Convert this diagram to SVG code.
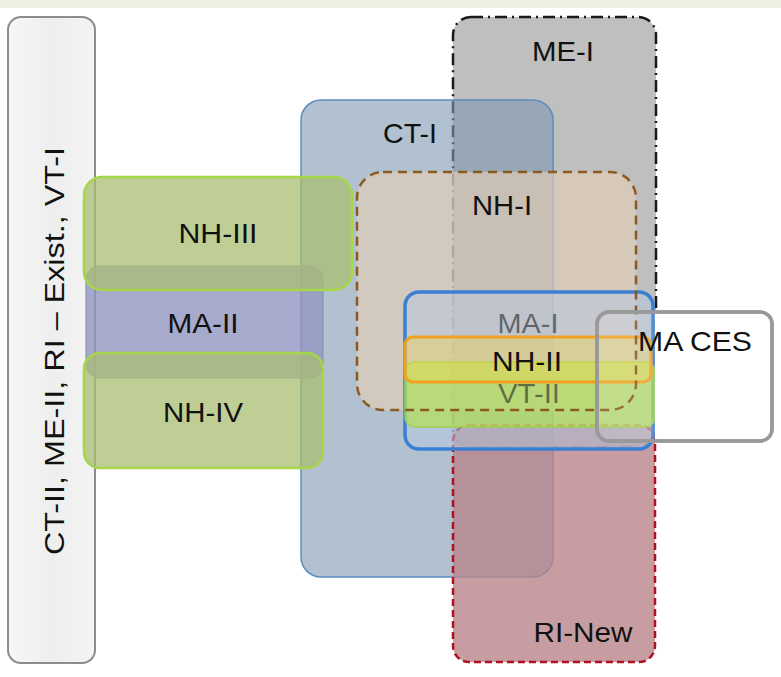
<svg xmlns="http://www.w3.org/2000/svg" width="781" height="677" viewBox="0 0 781 677">
<defs>
<linearGradient id="gLeft" x1="0" y1="0" x2="1" y2="0">
<stop offset="0" stop-color="#f7f7f7"/><stop offset="0.5" stop-color="#eeeeee"/><stop offset="1" stop-color="#f4f4f4"/>
</linearGradient>
</defs>
<style>
text{font-family:"Liberation Sans",Arial,sans-serif;font-size:28px;fill:#111;}
.lab{text-anchor:middle;}
</style>
<rect x="0" y="0" width="781" height="677" fill="#ffffff"/>
<rect x="0" y="0" width="781" height="8" fill="#eeeee3"/>

<g id="left-box">
<rect x="8" y="17" width="87" height="646" rx="13" fill="url(#gLeft)" stroke="#8c8c8c" stroke-width="2"/>
<text transform="translate(64,351) rotate(-90)" class="lab" textLength="408" lengthAdjust="spacingAndGlyphs">CT-II, ME-II, RI – Exist., VT-I</text>
</g>

<g id="ME-I">
<rect x="453" y="17" width="203" height="430" rx="18" fill="#bfbfbf" stroke="#1a1a1a" stroke-width="2.5" stroke-dasharray="12,5,2,5"/>
</g>

<g id="CT-I">
<rect x="301" y="100" width="252" height="477" rx="20" fill="#7d97b0" fill-opacity="0.6" stroke="#5b8cc0" stroke-width="1.5"/>
</g>

<g id="RI-New">
<rect x="453" y="425" width="202" height="237" rx="16" fill="#b9858b" fill-opacity="0.8" stroke="#b01020" stroke-width="2.5" stroke-dasharray="7,4"/>
</g>

<g id="NH-I">
<rect x="357" y="172" width="279" height="238" rx="26" fill="#e3ceb6" fill-opacity="0.65" stroke="none"/>
</g>

<g id="MA-II">
<rect x="86" y="266" width="237" height="112" rx="14" fill="#9295c0" fill-opacity="0.8" stroke="#8899aa" stroke-width="1.2"/>
</g>

<g id="NH-III">
<rect x="84" y="177" width="268" height="113" rx="18" fill="#a9bd72" fill-opacity="0.75" stroke="#a6d64a" stroke-width="2.5"/>
</g>

<g id="NH-IV">
<rect x="84" y="353" width="239" height="115" rx="16" fill="#a9bd72" fill-opacity="0.75" stroke="#a6d64a" stroke-width="2.5"/>
</g>

<g id="MA-I">
<rect x="405" y="292" width="248" height="157" rx="14" fill="#b7c6e0" fill-opacity="0.55" stroke="#3a80d2" stroke-width="3.5"/>
</g>

<g id="VT-II">
<rect x="405" y="362" width="250" height="65" rx="10" fill="#b4e44a" fill-opacity="0.65" stroke="#9fd04a" stroke-width="1.5"/>
</g>

<g id="NH-II">
<rect x="405" y="337" width="246" height="45" rx="8" fill="#f6d84a" fill-opacity="0.4" stroke="#f2a020" stroke-width="3"/>
</g>

<g id="NH-I-border">
<rect x="357" y="172" width="279" height="238" rx="26" fill="none" stroke="#8a5a20" stroke-width="2.5" stroke-dasharray="9,6"/>
</g>

<g id="MA-CES">
<rect x="597" y="312" width="175" height="129" rx="12" fill="#ffffff" fill-opacity="0.12" stroke="#999999" stroke-width="3.5"/>
<rect x="655" y="314" width="115" height="125" fill="#ffffff"/>
<rect x="597" y="312" width="175" height="129" rx="12" fill="none" stroke="#999999" stroke-width="3.5"/>
</g>

<g id="labels">
<text x="563" y="61" class="lab" textLength="62" lengthAdjust="spacingAndGlyphs">ME-I</text>
<text x="410" y="143" class="lab" textLength="54" lengthAdjust="spacingAndGlyphs">CT-I</text>
<text x="502" y="215" class="lab" textLength="60" lengthAdjust="spacingAndGlyphs">NH-I</text>
<text x="218" y="243" class="lab" textLength="79" lengthAdjust="spacingAndGlyphs">NH-III</text>
<text x="203" y="333" class="lab" textLength="71" lengthAdjust="spacingAndGlyphs">MA-II</text>
<text x="203" y="422" class="lab" textLength="80" lengthAdjust="spacingAndGlyphs">NH-IV</text>
<text x="528" y="333" class="lab" textLength="61" lengthAdjust="spacingAndGlyphs" fill-opacity="0.55">MA-I</text>
<text x="527" y="371" class="lab" textLength="70" lengthAdjust="spacingAndGlyphs">NH-II</text>
<text x="529" y="403" class="lab" textLength="62" lengthAdjust="spacingAndGlyphs" fill-opacity="0.55">VT-II</text>
<text x="695" y="351" class="lab" textLength="114" lengthAdjust="spacingAndGlyphs">MA CES</text>
<text x="583" y="642" class="lab" textLength="99" lengthAdjust="spacingAndGlyphs">RI-New</text>
</g>
</svg>
